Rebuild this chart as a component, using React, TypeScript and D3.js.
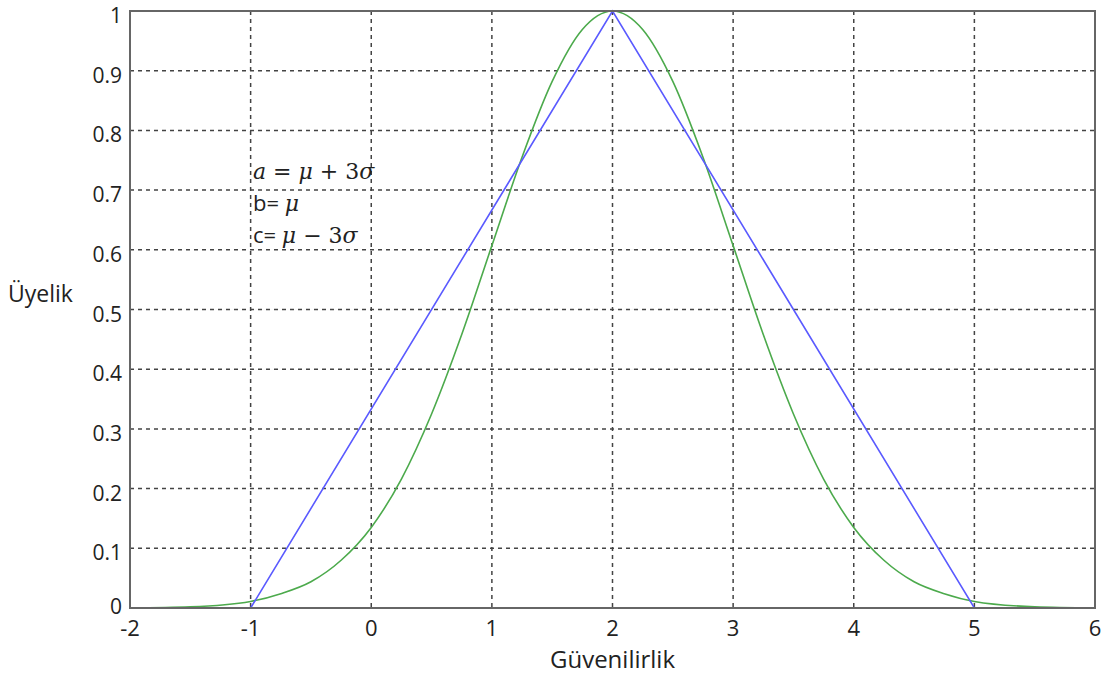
import {line, curveMonotoneX, scaleLinear} from "d3";

const X_TICKS = [-2, -1, 0, 1, 2, 3, 4, 5, 6];
const Y_TICKS = [0, 0.1, 0.2, 0.3, 0.4, 0.5, 0.6, 0.7, 0.8, 0.9, 1];

// triangular membership (blue)
const TRI_X = [-1.58, -1, 2, 5, 5.58];
const TRI_Y = [0, 0, 1, 0, 0];

// gaussian-like membership (green)
const GAUSS_X = [-2, -1.5, -1, -0.75, -0.5, -0.25, 0, 0.25, 0.5, 0.75, 1, 1.25, 1.5, 1.75, 2, 2.25, 2.5, 2.75, 3, 3.25, 3.5, 3.75, 4, 4.25, 4.5, 4.75, 5, 5.5, 6];
const GAUSS_Y = [0, 0.002, 0.011, 0.024, 0.044, 0.08, 0.135, 0.216, 0.325, 0.458, 0.607, 0.755, 0.882, 0.969, 1, 0.969, 0.882, 0.755, 0.607, 0.458, 0.325, 0.216, 0.135, 0.08, 0.044, 0.024, 0.011, 0.002, 0];

const NOTES = [
  ["a", " = ", "μ", " + 3", "σ"],
  ["b= ", "μ"],
  ["c= ", "μ", " − 3", "σ"]
];

export default function App() {
  const width = 1107;
  const height = 677;
  const left = 130;
  const right = 1095;
  const top = 11;
  const bottom = 608;

  const x = scaleLinear().domain([-2, 6]).range([left, right]);
  const y = scaleLinear().domain([0, 1]).range([bottom, top]);

  const triPoints = TRI_X.map((v, i) => [v, TRI_Y[i]] as [number, number]);
  const gaussPoints = GAUSS_X.map((v, i) => [v, GAUSS_Y[i]] as [number, number]);
  const triPath = line<[number, number]>().x((d) => x(d[0])).y((d) => y(d[1]))(triPoints) ?? "";
  const gaussPath =
    line<[number, number]>()
      .x((d) => x(d[0]))
      .y((d) => y(d[1]))
      .curve(curveMonotoneX)(gaussPoints) ?? "";

  const font = "'Open Sans', 'DejaVu Sans', sans-serif";
  const mathFont = "'DejaVu Serif', serif";

  return (
    <svg
      width={width}
      height={height}
      style={{position: "absolute", left: 0, top: 0, background: "#fff"}}
      fontFamily={font}
    >
      {X_TICKS.slice(1, -1).map((tick) => (
        <line
          key={`gx-${tick}`}
          x1={x(tick)}
          x2={x(tick)}
          y1={top}
          y2={bottom}
          stroke="#444"
          strokeWidth={1.5}
          strokeDasharray="4 4"
        />
      ))}
      {Y_TICKS.slice(1, -1).map((tick) => (
        <line
          key={`gy-${tick}`}
          x1={left}
          x2={right}
          y1={y(tick)}
          y2={y(tick)}
          stroke="#444"
          strokeWidth={1.5}
          strokeDasharray="4 4"
        />
      ))}

      <path d={gaussPath} fill="none" stroke="#4caa4c" strokeWidth={1.6} />
      <path d={triPath} fill="none" stroke="#5a5aff" strokeWidth={1.6} />

      <rect
        x={left}
        y={top}
        width={right - left}
        height={bottom - top}
        fill="none"
        stroke="#666"
        strokeWidth={2}
      />

      {X_TICKS.map((tick) => (
        <text key={`xl-${tick}`} x={x(tick)} y={bottom + 28} textAnchor="middle" fontSize={22} fill="#222">
          {tick}
        </text>
      ))}
      {Y_TICKS.map((tick) => (
        <text
          key={`yl-${tick}`}
          x={left - 8}
          y={y(tick) + (tick === 0 ? 6 : 12)}
          textAnchor="end"
          fontSize={21}
          fill="#222"
        >
          {tick}
        </text>
      ))}

      <text x={8} y={302} fontSize={23} fill="#222">
        Üyelik
      </text>
      <text x={x(2)} y={668} textAnchor="middle" fontSize={24} fill="#222">
        Güvenilirlik
      </text>

      {NOTES.map((parts, row) => (
        <text key={`note-${row}`} x={253} y={179 + row * 32} fontSize={22} fill="#222">
          {parts.map((part, i) => {
            const isSymbol = part === "a" || part === "μ" || part === "σ";
            return (
              <tspan
                key={i}
                fontFamily={isSymbol || part.startsWith(" ") ? mathFont : font}
                fontStyle={isSymbol ? "italic" : "normal"}
              >
                {part}
              </tspan>
            );
          })}
        </text>
      ))}
    </svg>
  );
}
